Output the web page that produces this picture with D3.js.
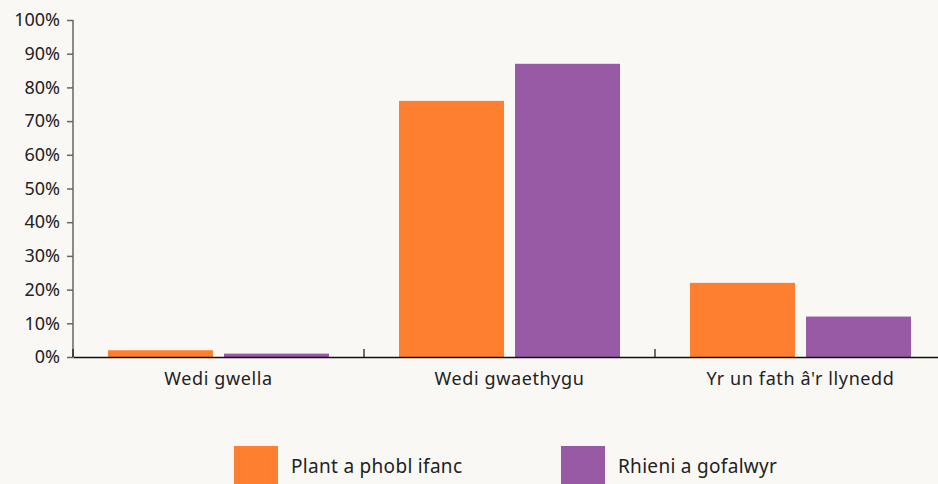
<!DOCTYPE html>
<html><head><meta charset="utf-8">
<script src="https://cdn.jsdelivr.net/npm/d3@7/dist/d3.min.js"></script>
<style>
html,body{margin:0;padding:0;background:#f9f8f5;}
svg{display:block;}
</style></head>
<body><svg id="chart" width="938" height="484"></svg>
<script>
const categories = ["Wedi gwella", "Wedi gwaethygu", "Yr un fath â'r llynedd"];
const seriesNames = ["Plant a phobl ifanc", "Rhieni a gofalwyr"];
const plantValues = [2, 76, 22];
const rhieniValues = [1, 87, 12];
const yTicks = [0,10,20,30,40,50,60,70,80,90,100];
const colors = ["#ff7f30", "#9859a5"];

const svg = d3.select("#chart");
const W = 938, H = 484;
const m = {left:73, right:0, top:20, bottom:127};
const innerW = W - m.left - m.right, innerH = H - m.top - m.bottom;
const g = svg.append("g").attr("transform",`translate(${m.left},${m.top})`);
const axisFont = "'Noto Sans', 'Open Sans', sans-serif";

const x0 = d3.scaleBand().domain(categories).range([0, 873]).paddingInner(0).paddingOuter(0);
const x1 = d3.scaleBand().domain(seriesNames).range([35, x0.bandwidth()-35]).paddingInner(0.095).paddingOuter(0);
const y = d3.scaleLinear().domain([0,100]).range([innerH,0]);

const data = categories.map((c,i)=>({cat:c, vals:[plantValues[i], rhieniValues[i]]}));

// bars
const groups = g.selectAll("g.cat").data(data).join("g").attr("class","cat")
  .attr("transform", d=>`translate(${x0(d.cat)},0)`);
groups.selectAll("rect").data(d=>d.vals.map((v,j)=>({name:seriesNames[j], v, j})))
  .join("rect")
  .attr("x", d=>x1(d.name)).attr("width", x1.bandwidth())
  .attr("y", d=>y(d.v)).attr("height", d=>innerH - y(d.v))
  .attr("fill", d=>colors[d.j]);

// y axis
const yAxis = g.append("g").call(d3.axisLeft(y).tickValues(yTicks).tickFormat(d=>d+"%").tickSize(6).tickPadding(7));
yAxis.select(".domain").attr("stroke","#666").attr("stroke-width",1.5).attr("d", `M0,0V${innerH}`);
yAxis.selectAll(".tick line").attr("stroke","#666").attr("stroke-width",1.5);
yAxis.selectAll(".tick text").attr("fill","#222").style("font-family",axisFont).style("font-size","18px");

// x axis
const xAxis = g.append("g").attr("transform",`translate(0,${innerH})`)
  .call(d3.axisBottom(x0).tickSize(0).tickPadding(15));
xAxis.select(".domain").attr("stroke","#111").attr("stroke-width",1.5);
xAxis.selectAll(".tick text").attr("fill","#222").style("font-family",axisFont).style("font-size","18px").style("letter-spacing","0.6px");
// category separators (ticks pointing up)
const sepPositions = categories.map(c=>x0(c));
g.append("g").selectAll("line").data(sepPositions).join("line")
  .attr("x1", d=>d).attr("x2", d=>d).attr("y1", innerH-8).attr("y2", innerH)
  .attr("stroke","#111").attr("stroke-width",1.2);

// legend
const legX = [234, 561];
const leg = svg.append("g").selectAll("g").data(seriesNames).join("g")
  .attr("transform",(d,i)=>`translate(${legX[i]},446)`);
leg.append("rect").attr("width",44).attr("height",40).attr("fill",(d,i)=>colors[i]);
leg.append("text").attr("x",57).attr("y",27)
  .attr("fill","#222").style("font-family",axisFont).style("font-size","19px").style("letter-spacing","0.3px")
  .text(d=>d);
</script></body></html>
